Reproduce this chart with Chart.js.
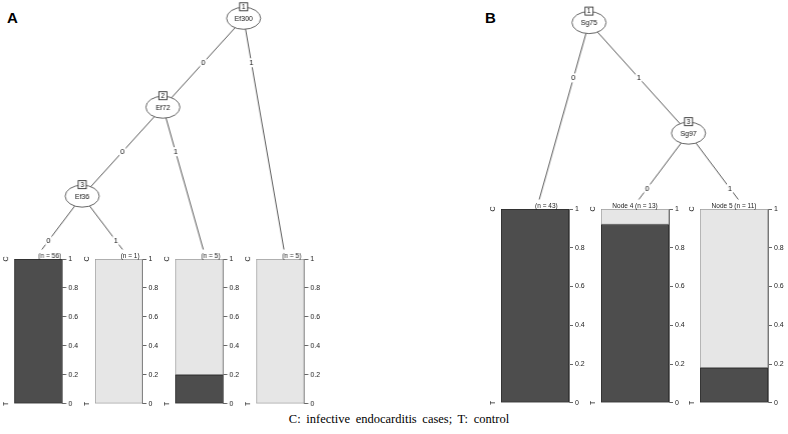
<!DOCTYPE html>
<html lang="en">
<head>
<meta charset="UTF-8">
<title>Classification trees</title>
<script src="https://cdn.jsdelivr.net/npm/chart.js"></script>
<style>
  html, body { margin: 0; padding: 0; background: #fff; }
  body { width: 788px; height: 434px; position: relative; overflow: hidden; font-family: "Liberation Sans", Arial, sans-serif; }
  .box { position: absolute; }
  .tag { position: absolute; font-weight: bold; font-size: 15px; line-height: 15px; }
  .caption { position: absolute; left: 0; width: 798px; top: 412px; text-align: center; font-family: "Liberation Serif", serif; font-size: 12.5px; word-spacing: 2.5px; }
</style>
</head>
<body>
<div class="tag" style="left:7px;top:10px">A</div>
<div class="tag" style="left:485px;top:10px">B</div>
<div class="caption">C: infective endocarditis cases; T: control</div>

<script>
// tree A
const nodeIdA = [1, 2, 3, 4, 5, 6, 7];
const parentA = [0, 1, 2, 3, 3, 2, 1];
const splitA = ["Ef300", "Ef72", "Ef36", null, null, null, null];
const edgeA = ["", "0", "0", "0", "1", "1", "1"];
const leafIdA = [4, 5, 6, 7];
const leafNA = [56, 1, 5, 5];
const showIdA = [false, false, false, false];
const darkA = [1, 0, 0.2, 0];     // lower part of the bar
const lightA = [0, 1, 0.8, 1];    // upper part of the bar

// tree B
const nodeIdB = [1, 2, 3, 4, 5];
const parentB = [0, 1, 1, 3, 3];
const splitB = ["Sg75", null, "Sg97", null, null];
const edgeB = ["", "0", "1", "0", "1"];
const leafIdB = [2, 4, 5];
const leafNB = [43, 13, 11];
const showIdB = [false, true, true];
const darkB = [1, 0.92, 0.18];
const lightB = [0, 0.08, 0.82];

// axis labels of every terminal panel
const yTicks = [0, 0.2, 0.4, 0.6, 0.8, 1];
const sideLabels = ["T", "C"];   // at 0 and at 1

const FONT = "Liberation Sans";
const DARK = "#4d4d4d", LIGHT = "#e6e6e6";

function place(left, top, w, h) {
    let div = document.createElement("div");
    div.className = "box";
    div.style.left = left + "px";
    div.style.top = top + "px";
    div.style.width = w + "px";
    div.style.height = h + "px";
    let c = document.createElement("canvas");
    div.appendChild(c);
    document.body.appendChild(div);
    return c;
}

// partykit style layout: leaves side by side, inner node over the split between its children
function layoutTree(ids, parent) {
    let kids = {};
    ids.forEach((id, i) => {
        if (parent[i]) (kids[parent[i]] = kids[parent[i]] || []).push(id);
    });
    let pos = {}, leaves = 0, maxDepth = 0;
    function walk(id, depth) {
        if (!kids[id]) {
            pos[id] = { x: leaves + 0.5, depth: depth, leaf: true };
            leaves++;
            return;
        }
        maxDepth = Math.max(maxDepth, depth);
        let x = 0;
        kids[id].forEach((c, j) => {
            walk(c, depth + 1);
            if (j === 0) x = leaves;
        });
        pos[id] = { x: x, depth: depth, leaf: false };
    }
    walk(ids[0], 0);
    let leafY = maxDepth + 0.6;
    Object.values(pos).forEach(p => { p.y = p.leaf ? leafY : p.depth; });
    return { pos: pos, nLeaves: leaves, leafY: leafY };
}

function drawTree(canvas, ids, parent, split, edge) {
    let t = layoutTree(ids, parent);
    let datasets = [];
    ids.forEach((id, i) => {
        if (!parent[i]) return;
        let a = t.pos[parent[i]], b = t.pos[id];
        datasets.push({
            data: [{ x: a.x, y: a.y }, { x: b.x, y: b.y }],
            showLine: true,
            borderColor: "#585858",
            borderWidth: 1,
            pointRadius: 0,
            clip: false
        });
    });

    let nodesPlugin = {
        id: "nodes",
        afterDatasetsDraw(chart) {
            let ctx = chart.ctx, xs = chart.scales.x, ys = chart.scales.y;
            ctx.save();
            ctx.textAlign = "center";
            ctx.textBaseline = "middle";
            // edge labels
            ctx.font = "7.5px '" + FONT + "'";
            ids.forEach((id, i) => {
                if (!parent[i]) return;
                let a = t.pos[parent[i]], b = t.pos[id];
                let ly = a.y + 0.5;
                let lx = a.x + (b.x - a.x) * (ly - a.y) / (b.y - a.y);
                let px = xs.getPixelForValue(lx), py = ys.getPixelForValue(ly);
                let w = ctx.measureText(edge[i]).width;
                ctx.fillStyle = "#fff";
                ctx.fillRect(px - w / 2 - 1, py - 4.5, w + 2, 9);
                ctx.fillStyle = "#111";
                ctx.fillText(edge[i], px, py);
            });
            // inner nodes
            ids.forEach((id, i) => {
                if (!split[i]) return;
                let p = t.pos[id];
                let px = xs.getPixelForValue(p.x), py = ys.getPixelForValue(p.y);
                ctx.beginPath();
                ctx.ellipse(px, py, 17, 11, 0, 0, Math.PI * 2);
                ctx.fillStyle = "#fff";
                ctx.fill();
                ctx.lineWidth = 0.9;
                ctx.strokeStyle = "#555";
                ctx.stroke();
                ctx.fillStyle = "#111";
                ctx.font = "7px '" + FONT + "'";
                ctx.fillText(split[i], px, py + 0.5);
                ctx.fillStyle = "#fff";
                ctx.fillRect(px - 4, py - 15.5, 8, 8);
                ctx.strokeStyle = "#333";
                ctx.strokeRect(px - 4, py - 15.5, 8, 8);
                ctx.fillStyle = "#111";
                ctx.font = "6.5px '" + FONT + "'";
                ctx.fillText(String(id), px, py - 11.3);
            });
            ctx.restore();
        }
    };

    new Chart(canvas, {
        type: "scatter",
        data: { datasets: datasets },
        options: {
            responsive: true,
            maintainAspectRatio: false,
            animation: false,
            layout: { padding: 0 },
            plugins: { legend: { display: false }, tooltip: { enabled: false } },
            scales: {
                x: { type: "linear", display: false, min: 0, max: t.nLeaves },
                y: { type: "linear", display: false, reverse: true, min: -0.2, max: t.leafY }
            }
        },
        plugins: [nodesPlugin]
    });
    return t;
}

function drawLeaf(canvas, dark, light, nodeId, n, showId) {
    let labelsPlugin = {
        id: "nodeLabels",
        afterDraw(chart) {
            let ctx = chart.ctx, a = chart.chartArea, ys = chart.scales.y;
            ctx.save();
            ctx.fillStyle = "#222";
            ctx.font = "6.5px '" + FONT + "'";
            // "Node k (n = ..)" title, centred as if the full text were printed
            let full = "Node " + nodeId + " (n = " + n + ")";
            let shown = showId ? full : "(n = " + n + ")";
            let right = (a.left + a.right) / 2 + ctx.measureText(full).width / 2;
            ctx.textAlign = "right";
            ctx.textBaseline = "bottom";
            ctx.fillText(shown, right, a.top + 0.5);
            // class names on the left side, parallel to the axis
            ctx.font = "7px '" + FONT + "'";
            ctx.textAlign = "center";
            ctx.textBaseline = "middle";
            [0, 1].forEach((v, i) => {
                ctx.save();
                ctx.translate(a.left - 8, ys.getPixelForValue(v));
                ctx.rotate(-Math.PI / 2);
                ctx.fillText(sideLabels[i], 0, 0);
                ctx.restore();
            });
            ctx.restore();
        }
    };

    new Chart(canvas, {
        type: "bar",
        data: {
            labels: [""],
            datasets: [
                { label: "T", data: [dark], backgroundColor: DARK, borderColor: "#2a2a2a", borderWidth: 1, borderSkipped: false },
                { label: "C", data: [light], backgroundColor: LIGHT, borderColor: "#9c9c9c", borderWidth: 1, borderSkipped: false }
            ]
        },
        options: {
            responsive: true,
            maintainAspectRatio: false,
            animation: false,
            categoryPercentage: 1,
            barPercentage: 1,
            layout: { padding: { top: 12, bottom: 6, left: 12, right: 0 } },
            plugins: { legend: { display: false }, tooltip: { enabled: false } },
            scales: {
                x: { stacked: true, display: false },
                y: {
                    stacked: true,
                    position: "right",
                    min: 0,
                    max: 1,
                    afterBuildTicks: ax => { ax.ticks = yTicks.map(v => ({ value: v })); },
                    afterFit: ax => { ax.width = 22; },
                    grid: { drawOnChartArea: false, drawTicks: true, tickLength: 4, color: "#666" },
                    border: { display: true, color: "#777" },
                    ticks: {
                        padding: 2,
                        color: "#222",
                        font: { family: FONT, size: 7 },
                        callback: v => String(v)
                    }
                }
            }
        },
        plugins: [labelsPlugin]
    });
}

// panel frames (pixels of the bar area of each terminal panel)
const frameA = { left: 14, step: 80.7, width: 47.5, top: 259, bottom: 404 };
const frameB = { left: 501, step: 99.5, width: 68, top: 209, bottom: 403 };

function drawPanel(f, ids, parent, split, edge, leafIds, leafN, showId, dark, light) {
    let nLeaves = leafIds.length;
    let treeLeft = f.left + f.width / 2 + 4 - f.step / 2;
    drawTree(place(treeLeft, 0, f.step * nLeaves, f.top - 9), ids, parent, split, edge);
    leafIds.forEach((id, i) => {
        let l = f.left + i * f.step;
        let c = place(l - 12, f.top - 12, f.width + 12 + 22, f.bottom - f.top + 12 + 6);
        drawLeaf(c, dark[i], light[i], id, leafN[i], showId[i]);
    });
}

drawPanel(frameA, nodeIdA, parentA, splitA, edgeA, leafIdA, leafNA, showIdA, darkA, lightA);
drawPanel(frameB, nodeIdB, parentB, splitB, edgeB, leafIdB, leafNB, showIdB, darkB, lightB);
</script>
</body>
</html>
